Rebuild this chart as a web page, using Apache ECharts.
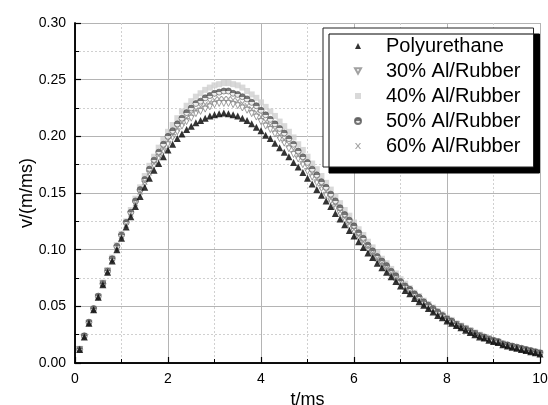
<!DOCTYPE html>
<html>
<head>
<meta charset="utf-8">
<script src="https://cdn.jsdelivr.net/npm/echarts@6/dist/echarts.min.js"></script>
<style>
  html, body { margin: 0; padding: 0; background: #fff; }
  #chart { width: 548px; height: 405px; }
</style>
</head>
<body>
<div id="chart"></div>
<script>
// time (ms)
const times = [
  0.1, 0.2, 0.3, 0.4, 0.5, 0.6, 0.7, 0.8, 0.9, 1.0,
  1.1, 1.2, 1.3, 1.4, 1.5, 1.6, 1.7, 1.8, 1.9, 2.0,
  2.1, 2.2, 2.3, 2.4, 2.5, 2.6, 2.7, 2.8, 2.9, 3.0,
  3.1, 3.2, 3.3, 3.4, 3.5, 3.6, 3.7, 3.8, 3.9, 4.0,
  4.1, 4.2, 4.3, 4.4, 4.5, 4.6, 4.7, 4.8, 4.9, 5.0,
  5.1, 5.2, 5.3, 5.4, 5.5, 5.6, 5.7, 5.8, 5.9, 6.0,
  6.1, 6.2, 6.3, 6.4, 6.5, 6.6, 6.7, 6.8, 6.9, 7.0,
  7.1, 7.2, 7.3, 7.4, 7.5, 7.6, 7.7, 7.8, 7.9, 8.0,
  8.1, 8.2, 8.3, 8.4, 8.5, 8.6, 8.7, 8.8, 8.9, 9.0,
  9.1, 9.2, 9.3, 9.4, 9.5, 9.6, 9.7, 9.8, 9.9, 10.0
];

const polyurethane = [
  0.012, 0.023, 0.035, 0.047, 0.058, 0.069, 0.080, 0.090, 0.100, 0.110,
  0.120, 0.129, 0.138, 0.147, 0.155, 0.163, 0.170, 0.176, 0.182, 0.188,
  0.193, 0.198, 0.202, 0.206, 0.209, 0.212, 0.214, 0.216, 0.218, 0.219,
  0.220, 0.2205, 0.220, 0.219, 0.218, 0.216, 0.214, 0.211, 0.208, 0.205,
  0.201, 0.198, 0.194, 0.190, 0.186, 0.182, 0.177, 0.173, 0.168, 0.163,
  0.158, 0.153, 0.148, 0.143, 0.138, 0.132, 0.127, 0.122, 0.117, 0.112,
  0.107, 0.102, 0.097, 0.093, 0.088, 0.084, 0.080, 0.076, 0.072, 0.068,
  0.064, 0.061, 0.057, 0.054, 0.051, 0.048, 0.045, 0.042, 0.040, 0.037,
  0.035, 0.033, 0.031, 0.029, 0.027, 0.025, 0.023, 0.022, 0.020, 0.019,
  0.018, 0.016, 0.015, 0.014, 0.013, 0.012, 0.011, 0.010, 0.009, 0.008
];

const rubber30 = [
  0.012, 0.023, 0.035, 0.047, 0.058, 0.070, 0.081, 0.091, 0.101, 0.111,
  0.122, 0.131, 0.140, 0.150, 0.158, 0.167, 0.174, 0.181, 0.187, 0.193,
  0.199, 0.204, 0.209, 0.213, 0.216, 0.220, 0.222, 0.224, 0.226, 0.228,
  0.229, 0.229, 0.229, 0.228, 0.227, 0.225, 0.223, 0.220, 0.217, 0.213,
  0.209, 0.206, 0.202, 0.198, 0.194, 0.189, 0.184, 0.180, 0.175, 0.169,
  0.164, 0.159, 0.154, 0.148, 0.143, 0.137, 0.132, 0.126, 0.121, 0.116,
  0.111, 0.106, 0.100, 0.096, 0.091, 0.087, 0.083, 0.078, 0.074, 0.070,
  0.066, 0.063, 0.059, 0.056, 0.052, 0.049, 0.046, 0.043, 0.041, 0.038,
  0.036, 0.034, 0.032, 0.030, 0.028, 0.026, 0.024, 0.022, 0.021, 0.019,
  0.018, 0.016, 0.015, 0.014, 0.013, 0.012, 0.011, 0.010, 0.009, 0.008
];

const rubber40 = [
  0.012, 0.024, 0.036, 0.048, 0.059, 0.071, 0.082, 0.093, 0.104, 0.114,
  0.125, 0.135, 0.145, 0.155, 0.165, 0.174, 0.182, 0.190, 0.197, 0.204,
  0.210, 0.216, 0.222, 0.227, 0.231, 0.235, 0.238, 0.241, 0.243, 0.245,
  0.246, 0.247, 0.247, 0.246, 0.245, 0.243, 0.240, 0.237, 0.234, 0.230,
  0.226, 0.222, 0.218, 0.213, 0.209, 0.204, 0.199, 0.193, 0.188, 0.182,
  0.176, 0.171, 0.165, 0.159, 0.153, 0.147, 0.141, 0.135, 0.130, 0.124,
  0.118, 0.113, 0.107, 0.102, 0.097, 0.092, 0.088, 0.083, 0.079, 0.074,
  0.070, 0.066, 0.062, 0.059, 0.055, 0.052, 0.049, 0.046, 0.043, 0.040,
  0.038, 0.035, 0.033, 0.031, 0.029, 0.027, 0.025, 0.023, 0.022, 0.020,
  0.019, 0.017, 0.016, 0.015, 0.014, 0.013, 0.012, 0.011, 0.010, 0.009
];

const rubber50 = [
  0.012, 0.024, 0.036, 0.048, 0.059, 0.070, 0.081, 0.092, 0.103, 0.113,
  0.124, 0.133, 0.143, 0.153, 0.162, 0.171, 0.179, 0.186, 0.193, 0.200,
  0.205, 0.211, 0.216, 0.221, 0.225, 0.229, 0.231, 0.234, 0.236, 0.238,
  0.239, 0.240, 0.240, 0.238, 0.237, 0.235, 0.233, 0.230, 0.227, 0.223,
  0.219, 0.215, 0.211, 0.207, 0.203, 0.198, 0.193, 0.187, 0.182, 0.177,
  0.171, 0.166, 0.160, 0.155, 0.149, 0.143, 0.137, 0.131, 0.126, 0.121,
  0.115, 0.110, 0.104, 0.099, 0.094, 0.090, 0.086, 0.081, 0.077, 0.072,
  0.068, 0.065, 0.061, 0.058, 0.054, 0.051, 0.048, 0.045, 0.042, 0.039,
  0.037, 0.034, 0.032, 0.030, 0.028, 0.026, 0.024, 0.023, 0.021, 0.020,
  0.019, 0.017, 0.016, 0.015, 0.014, 0.013, 0.012, 0.011, 0.010, 0.009
];

const rubber60 = [
  0.012, 0.023, 0.035, 0.047, 0.058, 0.070, 0.081, 0.091, 0.102, 0.112,
  0.122, 0.132, 0.141, 0.151, 0.160, 0.168, 0.176, 0.183, 0.189, 0.196,
  0.201, 0.207, 0.212, 0.216, 0.220, 0.223, 0.226, 0.228, 0.230, 0.232,
  0.233, 0.233, 0.233, 0.232, 0.231, 0.229, 0.227, 0.224, 0.221, 0.217,
  0.213, 0.210, 0.206, 0.201, 0.197, 0.193, 0.188, 0.183, 0.178, 0.172,
  0.167, 0.162, 0.156, 0.151, 0.145, 0.139, 0.134, 0.128, 0.123, 0.118,
  0.112, 0.107, 0.102, 0.097, 0.092, 0.088, 0.084, 0.079, 0.075, 0.071,
  0.067, 0.063, 0.059, 0.056, 0.053, 0.050, 0.047, 0.044, 0.041, 0.038,
  0.036, 0.034, 0.032, 0.030, 0.028, 0.026, 0.024, 0.022, 0.021, 0.019,
  0.018, 0.017, 0.015, 0.014, 0.013, 0.012, 0.011, 0.010, 0.009, 0.008
];

const seriesNames = ["Polyurethane", "30% Al/Rubber", "40% Al/Rubber", "50% Al/Rubber", "60% Al/Rubber"];
const xTicks = [0, 2, 4, 6, 8, 10];
const yTicks = [0.00, 0.05, 0.10, 0.15, 0.20, 0.25, 0.30];

const pairs = (ys) => times.map((t, i) => [t, ys[i]]);

const font = "Liberation Sans, Arial, sans-serif";
const downTri = "path://M0,0 L10,0 L5,9 Z";
const xSymbol = "path://M0,0 L2,0 L5,3.6 L8,0 L10,0 L6.2,5 L10,10 L8,10 L5,6.4 L2,10 L0,10 L3.8,5 Z";

// hidden helper axes that only draw the short inside minor ticks
const minorAxis = (extra) => Object.assign({
  type: "value",
  axisLine: { show: false, onZero: false },
  axisTick: { show: true, inside: true, length: 4, lineStyle: { color: "#000", width: 1 } },
  axisLabel: { show: false },
  splitLine: { show: false }
}, extra);

const chart = echarts.init(document.getElementById("chart"), null, { renderer: "canvas" });

chart.setOption({
  backgroundColor: "#fff",
  animation: false,
  grid: { left: 75, right: 8, top: 23, bottom: 42, containLabel: false, outerBoundsMode: "none" },
  legend: {
    orient: "vertical",
    left: 323,
    top: 28,
    padding: [8, 13, 11, 31],
    itemGap: 5,
    itemWidth: 6,
    itemHeight: 6,
    backgroundColor: "#fff",
    borderColor: "#222",
    borderWidth: 1,
    shadowColor: "#000",
    shadowBlur: 0,
    shadowOffsetX: 6,
    shadowOffsetY: 6,
    data: seriesNames,
    textStyle: {
      fontFamily: font,
      fontSize: 20,
      lineHeight: 20,
      color: "#000",
      padding: [0, 0, 0, 20]
    }
  },
  xAxis: [
    {
      type: "value",
      min: xTicks[0],
      max: xTicks[xTicks.length - 1],
      interval: 2,
      name: "t/ms",
      nameLocation: "middle",
      nameGap: 28,
      nameMoveOverlap: false,
      nameTextStyle: { fontFamily: font, fontSize: 18, color: "#000" },
      axisLine: { show: true, onZero: false, lineStyle: { color: "#000", width: 1.5 } },
      axisTick: { show: true, inside: true, length: 6, lineStyle: { color: "#000", width: 1.2 } },
      axisLabel: { fontFamily: font, fontSize: 14, color: "#000", margin: 9 },
      splitLine: { show: true, lineStyle: { color: "#b4b4b4", width: 1 } },
      minorTick: { show: false, splitNumber: 2 },
      minorSplitLine: { show: true, lineStyle: { color: "#d0d0d0", width: 1, type: [2, 2] } }
    },
    {
      type: "value",
      position: "top",
      min: 0,
      max: 10,
      interval: 2,
      axisLine: { show: true, lineStyle: { color: "#000", width: 1.5 } },
      axisTick: { show: false },
      axisLabel: { show: false },
      splitLine: { show: false }
    },
    minorAxis({ position: "bottom", min: 0, max: 10, interval: 1 })
  ],
  yAxis: [
    {
      type: "value",
      min: yTicks[0],
      max: yTicks[yTicks.length - 1],
      interval: 0.05,
      name: "v/(m/ms)",
      nameLocation: "middle",
      nameGap: 39,
      nameMoveOverlap: false,
      nameTextStyle: { fontFamily: font, fontSize: 18, color: "#000" },
      axisLine: { show: true, onZero: false, lineStyle: { color: "#000", width: 1.5 } },
      axisTick: { show: true, inside: true, length: 6, lineStyle: { color: "#000", width: 1.2 } },
      axisLabel: {
        fontFamily: font, fontSize: 14, color: "#000", margin: 9,
        formatter: (v) => v.toFixed(2)
      },
      splitLine: { show: true, lineStyle: { color: "#b4b4b4", width: 1 } },
      minorTick: { show: false, splitNumber: 2 },
      minorSplitLine: { show: true, lineStyle: { color: "#d0d0d0", width: 1, type: [2, 2] } }
    },
    {
      type: "value",
      position: "right",
      min: 0,
      max: 0.3,
      interval: 0.05,
      axisLine: { show: true, lineStyle: { color: "#000", width: 1.5 } },
      axisTick: { show: false },
      axisLabel: { show: false },
      splitLine: { show: false }
    },
    minorAxis({ position: "left", min: 0, max: 0.3, interval: 0.025 })
  ],
  series: [
    {
      name: seriesNames[0],
      type: "scatter",
      data: pairs(polyurethane),
      symbol: "triangle",
      symbolSize: 7,
      itemStyle: { color: "#000" },
      z: 6
    },
    {
      name: seriesNames[1],
      type: "scatter",
      data: pairs(rubber30),
      symbol: downTri,
      symbolSize: 6,
      itemStyle: { color: "#fff", borderColor: "#8a8a8a", borderWidth: 1 },
      z: 3
    },
    {
      name: seriesNames[2],
      type: "scatter",
      data: pairs(rubber40),
      symbol: "rect",
      symbolSize: 6,
      itemStyle: { color: "#cfcfcf" },
      z: 2
    },
    {
      name: seriesNames[3],
      type: "scatter",
      data: pairs(rubber50),
      symbol: "circle",
      symbolSize: 6,
      itemStyle: {
        color: {
          type: "linear", x: 0, y: 0, x2: 0, y2: 1,
          colorStops: [
            { offset: 0, color: "#555" },
            { offset: 0.5, color: "#555" },
            { offset: 0.5, color: "#e8e8e8" },
            { offset: 1, color: "#e8e8e8" }
          ]
        },
        borderColor: "#555",
        borderWidth: 0.8
      },
      z: 4
    },
    {
      name: seriesNames[4],
      type: "scatter",
      data: pairs(rubber60),
      symbol: xSymbol,
      symbolSize: 6,
      itemStyle: { color: "#8a8a8a" },
      z: 5
    }
  ]
});
</script>
</body>
</html>
